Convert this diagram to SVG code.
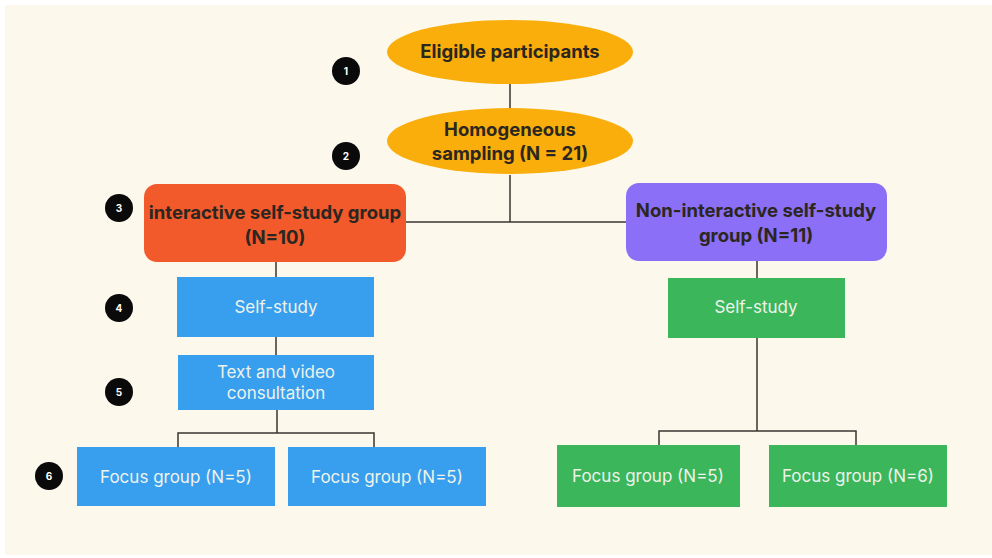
<svg xmlns="http://www.w3.org/2000/svg" width="992" height="558" viewBox="0 0 992 558">
<style>
.bold{font-family:Inter,"Open Sans","Liberation Sans",sans-serif;font-weight:700;font-size:18.5px;fill:#2b2620;text-anchor:middle}
.reg{font-family:Inter,"Open Sans","Liberation Sans",sans-serif;font-weight:400;font-size:17px;fill:#eef3ea;text-anchor:middle}
.num{font-family:Inter,"Liberation Sans",sans-serif;font-weight:700;font-size:10px;fill:#ffffff;text-anchor:middle}
.conn{stroke:#3a3530;stroke-width:1.5;fill:none}
.blue{fill:#389eee}
.green{fill:#3bb65b}
.oval{fill:#f9ae0c}
</style>
<rect x="0" y="0" width="992" height="558" fill="#ffffff"/>
<rect x="5" y="5" width="987" height="550" fill="#fcf8ec"/>
<g id="connectors">
<line class="conn" x1="510" y1="84" x2="510" y2="108"/>
<line class="conn" x1="510" y1="175" x2="510" y2="222"/>
<line class="conn" x1="406" y1="222" x2="626" y2="222"/>
<line class="conn" x1="276" y1="262" x2="276" y2="277"/>
<line class="conn" x1="276" y1="337" x2="276" y2="355"/>
<path class="conn" d="M277 410 V433 M178 447 V433 H374 V447"/>
<line class="conn" x1="757" y1="261" x2="757" y2="278"/>
<path class="conn" d="M757 338 V431 M659 445 V431 H856 V445"/>
</g>
<g id="eligible">
<ellipse class="oval" cx="510" cy="52" rx="123" ry="32"/>
<text class="bold" x="510" y="58">Eligible participants</text>
</g>
<g id="sampling">
<ellipse class="oval" cx="510" cy="141" rx="123" ry="33"/>
<text class="bold" x="510" y="136">Homogeneous</text>
<text class="bold" x="510" y="160">sampling (N = 21)</text>
</g>
<g id="interactive">
<rect x="144" y="184" width="262" height="78" rx="13" fill="#f25a2c"/>
<text class="bold" x="275" y="219">interactive self-study group</text>
<text class="bold" x="275" y="244">(N=10)</text>
</g>
<g id="noninteractive">
<rect x="626" y="183" width="261" height="78" rx="13" fill="#8b6ff6"/>
<text class="bold" x="756" y="217">Non-interactive self-study</text>
<text class="bold" x="756" y="242">group (N=11)</text>
</g>
<g id="selfstudy-left">
<rect class="blue" x="177" y="277" width="197" height="60"/>
<text class="reg" x="276" y="313">Self-study</text>
</g>
<g id="consultation">
<rect class="blue" x="178" y="355" width="196" height="55"/>
<text class="reg" x="276" y="378">Text and video</text>
<text class="reg" x="276" y="399">consultation</text>
</g>
<g id="focus1">
<rect class="blue" x="77" y="447" width="198" height="59"/>
<text class="reg" x="176" y="483">Focus group (N=5)</text>
</g>
<g id="focus2">
<rect class="blue" x="288" y="447" width="198" height="59"/>
<text class="reg" x="387" y="483">Focus group (N=5)</text>
</g>
<g id="selfstudy-right">
<rect class="green" x="668" y="278" width="177" height="60"/>
<text class="reg" x="756" y="313">Self-study</text>
</g>
<g id="focus3">
<rect class="green" x="557" y="445" width="183" height="62"/>
<text class="reg" x="648" y="482">Focus group (N=5)</text>
</g>
<g id="focus4">
<rect class="green" x="769" y="445" width="178" height="62"/>
<text class="reg" x="858" y="482">Focus group (N=6)</text>
</g>
<g id="badges">
<circle cx="346" cy="71" r="14" fill="#0a0a0a"/><text class="num" x="346" y="75">1</text>
<circle cx="346" cy="156" r="14" fill="#0a0a0a"/><text class="num" x="346" y="160">2</text>
<circle cx="119" cy="208" r="14" fill="#0a0a0a"/><text class="num" x="119" y="212">3</text>
<circle cx="119" cy="308" r="14" fill="#0a0a0a"/><text class="num" x="119" y="312">4</text>
<circle cx="119" cy="392" r="14" fill="#0a0a0a"/><text class="num" x="119" y="396">5</text>
<circle cx="49" cy="476" r="14" fill="#0a0a0a"/><text class="num" x="49" y="480">6</text>
</g>
</svg>
